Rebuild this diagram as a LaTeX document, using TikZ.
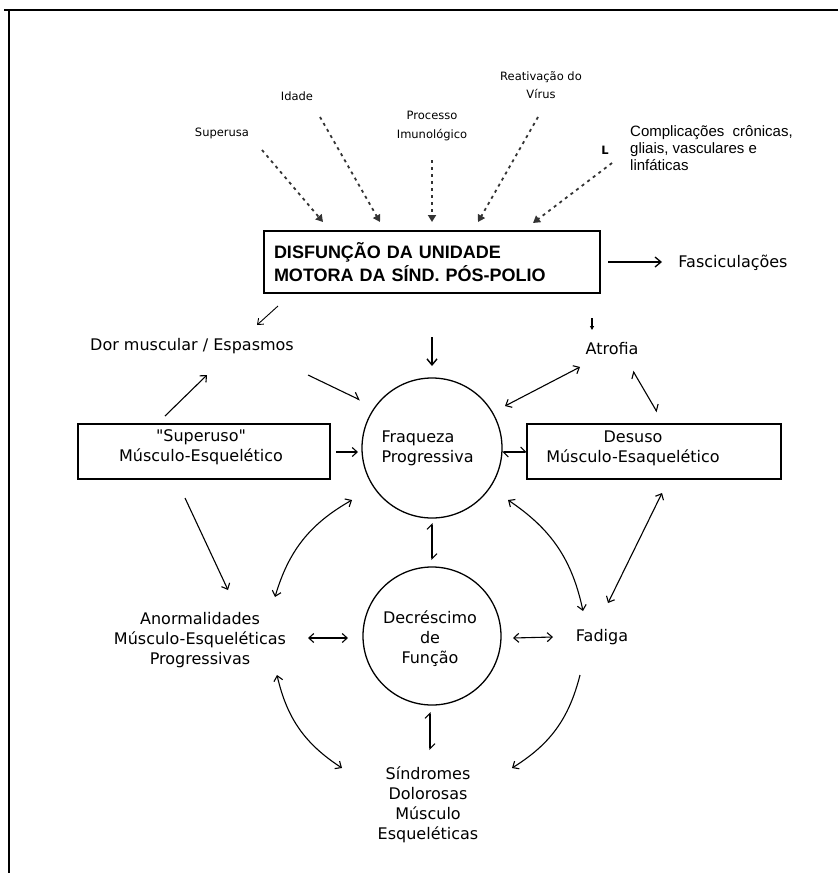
\documentclass[tikz,border=0pt]{standalone}
\usepackage{fontspec}
\usetikzlibrary{arrows.meta,calc}
\newfontfamily\dvsfam{DejaVu Sans}
\newfontfamily\libfam{Liberation Sans}
\newcommand\mainfnt{\dvsfam\fontsize{16}{20}\selectfont}
\newcommand\smallfnt{\dvsfam\fontsize{11.5}{18.5}\selectfont}
\newcommand\arialfnt{\libfam\fontsize{15}{17}\selectfont}
\newcommand\boxfnt{\libfam\bfseries\fontsize{18}{23}\selectfont}
\tikzset{
  lbl/.style={font=\mainfnt, inner sep=0pt, align=center},
  smalllbl/.style={font=\smallfnt, inner sep=0pt, align=center},
  rectbox/.style={draw, line width=1.4pt, inner sep=0pt},
  circbox/.style={draw, circle, line width=1.3pt, inner sep=0pt},
  arr/.style={line width=1.1pt, -{Straight Barb[length=5pt,width=9pt]}},
  barr/.style={line width=1.1pt, {Straight Barb[length=5pt,width=9pt]}-{Straight Barb[length=5pt,width=9pt]}},
  harp/.style={line width=1.1pt, {Straight Barb[harpoon,length=5pt,width=10pt]}-{Straight Barb[harpoon,length=5pt,width=10pt]}},
  dotarr/.style={line width=1.8pt, black!80, dash pattern=on 3pt off 4pt, -{Triangle[length=7pt,width=8pt]}}
}
\begin{document}
\begin{tikzpicture}[x=1pt,y=-1pt]
\useasboundingbox (0,0) rectangle (838,873);
% frame (top and left edges)
\draw[line width=2pt] (4,10) -- (838,10);
\draw[line width=2pt] (9,9) -- (9,873);

% top causes
\node[smalllbl] (sup) at (222,133) {Superusa};
\node[smalllbl] (ida) at (297,96) {Idade};
\node[smalllbl] (pro) at (432,126) {Processo\\Imunológico};
\node[smalllbl] (rea) at (541,85) {Reativação do\\Vírus};
\node[smalllbl, font=\smallfnt\bfseries] (ltr) at (605,150) {L};
\node[font=\arialfnt, inner sep=0pt, align=left, anchor=west] (comp) at (630,148) {Complicações~ crônicas,\\gliais, vasculares e\\linfáticas};

% main box
\node[rectbox, minimum width=336pt, minimum height=62pt, text width=316pt, inner xsep=10pt, align=left, font=\boxfnt] (box) at (432,262) {DISFUNÇÃO DA UNIDADE\\MOTORA DA SÍND. PÓS-POLIO};
\node[lbl] (fas) at (733,263) {Fasciculações};

% second row
\node[lbl] (dor) at (192,346) {Dor muscular / Espasmos};
\node[lbl] (atr) at (612,349) {Atrofia};

% circles
\node[circbox, minimum size=140pt, label={[lbl, anchor=west, align=left]west:{\hspace*{20pt}Fraqueza\\\hspace*{20pt}Progressiva}}] (fraq) at (432,448) {};
\node[circbox, minimum size=138pt] (decr) at (432,636) {};
\node[lbl] (decrt) at (430,639) {Decréscimo\\de\\Função};

% side boxes
\node[rectbox, minimum width=252pt, minimum height=55pt] (supb) at (204,451.5) {};
\node[lbl] (supbt) at (201,447) {"Superuso"\\Músculo-Esquelético};
\node[rectbox, minimum width=254pt, minimum height=55pt] (desb) at (654,451.5) {};
\node[lbl] (desbt) at (633,448) {Desuso\\Músculo-Esaquelético};

% lower labels
\node[lbl] (anor) at (200,640) {Anormalidades\\Músculo-Esqueléticas\\Progressivas};
\node[lbl] (fad) at (602,637) {Fadiga};
\node[lbl] (sin) at (428,805) {Síndromes\\Dolorosas\\Músculo\\Esqueléticas};

% dotted cause arrows
\draw[dotarr] ($(sup)+(40,17)$) -- ($(box)+(-109,-40)$);
\draw[dotarr] ($(ida)+(23,21)$) -- ($(box)+(-52,-40)$);
\draw[dotarr] ($(pro)+(0,34)$) -- ($(box)+(0,-40)$);
\draw[dotarr] ($(rea)+(-3,32)$) -- ($(box)+(46,-40)$);
\draw[dotarr] ($(comp.west)+(-18,15)$) -- ($(box)+(101,-39)$);

% main box outputs
\draw[line width=1.3pt, -{Straight Barb[length=6pt,width=10pt]}] ($(box)+(176,0)$) -- ($(fas)+(-71,-1)$);
\draw[line width=0.9pt, -{Straight Barb[length=5pt,width=8pt]}] ($(box)+(-154,44)$) -- ($(dor)+(65,-21)$);
\draw[line width=1.4pt, -{Straight Barb[length=6pt,width=10pt]}] ($(box)+(0,75)$) -- ($(fraq)+(0,-82)$);
\draw[line width=1.1pt, -{Triangle[length=4pt,width=4pt]}] ($(box)+(160,56)$) -- ($(atr)+(-20,-19)$);

% upper interactions
\draw[arr] ($(supb)+(-39,-35.5)$) -- ($(dor)+(15,29)$);
\draw[line width=1.1pt, -{Straight Barb[harpoon,length=6pt,width=10pt]}] ($(dor)+(116,29)$) -- ($(fraq)+(-72,-48)$);
\draw[arr] ($(supb)+(132,0.5)$) -- ($(fraq)+(-74,4)$);
\draw[barr] ($(atr)+(-32,18)$) -- ($(fraq)+(73,-42)$);
\draw[harp] ($(atr)+(21,22)$) -- ($(desb)+(3,-39.5)$);
\draw[harp] ($(desb)+(-127,0.5)$) -- ($(fraq)+(70,4)$);
\draw[harp] ($(fraq)+(0,75)$) -- ($(decr)+(0,-76)$);

% lower interactions
\draw[arr] ($(supb)+(-19,46.5)$) -- ($(anor)+(28,-50)$);
\draw[barr] ($(fraq)+(-80,52)$) to[bend right=22] ($(anor)+(75,-43)$);
\draw[barr] ($(anor)+(108,-2)$) -- ($(decr)+(-84,2)$);
\draw[barr] ($(decr)+(81,2)$) -- ($(fad)+(-49,0)$);
\draw[barr] ($(fraq)+(76,52)$) to[bend left=22] ($(fad)+(-19,-26)$);
\draw[barr] ($(desb)+(8,41.5)$) -- ($(fad)+(6,-34)$);
\draw[arr] ($(fad)+(-22,38)$) to[bend left=22] ($(sin)+(84,-37)$);
\draw[barr] ($(anor)+(77,35)$) to[bend right=22] ($(sin)+(-86,-37)$);
\draw[harp] ($(decr)+(-2,76)$) -- ($(sin)+(2,-55)$);
\end{tikzpicture}
\end{document}
